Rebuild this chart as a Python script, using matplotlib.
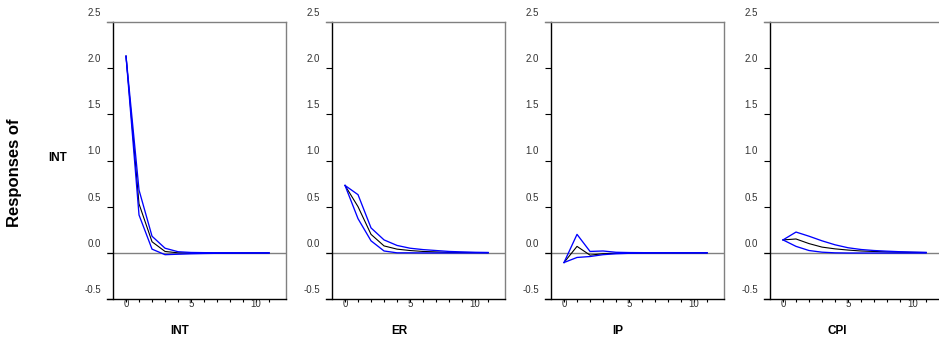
import numpy as np
import matplotlib
matplotlib.use('Agg')
import matplotlib.pyplot as plt
from matplotlib.transforms import ScaledTranslation

plt.rcParams['font.family'] = ['Liberation Sans', 'DejaVu Sans']

# horizons and impulse responses of INT to each shock
steps = list(range(12))
shocks = ['INT', 'ER', 'IP', 'CPI']

int_mid = [2.13, 0.53, 0.12, 0.015, 0.0, -0.003, -0.003, -0.002, -0.002, -0.001, -0.001, -0.001]
int_up = [2.13, 0.68, 0.18, 0.05, 0.012, 0.004, 0.002, 0.001, 0.001, 0.0, 0.0, 0.0]
int_lo = [2.13, 0.41, 0.04, -0.02, -0.015, -0.01, -0.007, -0.005, -0.004, -0.003, -0.002, -0.002]

er_mid = [0.73, 0.50, 0.20, 0.075, 0.04, 0.025, 0.015, 0.01, 0.005, 0.004, 0.003, 0.002]
er_up = [0.73, 0.63, 0.27, 0.14, 0.08, 0.05, 0.035, 0.025, 0.015, 0.01, 0.006, 0.004]
er_lo = [0.73, 0.37, 0.13, 0.02, 0.0, 0.0, -0.001, -0.001, -0.001, -0.001, -0.001, -0.001]

ip_mid = [-0.105, 0.07, -0.025, -0.01, -0.004, -0.002, -0.001, 0.0, 0.0, 0.0, 0.0, 0.0]
ip_up = [-0.105, 0.20, 0.015, 0.02, 0.006, 0.003, 0.002, 0.001, 0.001, 0.0, 0.0, 0.0]
ip_lo = [-0.105, -0.05, -0.04, -0.02, -0.01, -0.005, -0.003, -0.002, -0.001, -0.001, 0.0, 0.0]

cpi_mid = [0.14, 0.15, 0.10, 0.062, 0.043, 0.03, 0.02, 0.015, 0.01, 0.007, 0.005, 0.003]
cpi_up = [0.14, 0.225, 0.18, 0.13, 0.087, 0.055, 0.036, 0.025, 0.018, 0.012, 0.008, 0.005]
cpi_lo = [0.14, 0.07, 0.025, 0.007, 0.0, -0.002, -0.002, -0.002, -0.002, -0.002, -0.002, -0.002]

mids = [int_mid, er_mid, ip_mid, cpi_mid]
ups = [int_up, er_up, ip_up, cpi_up]
los = [int_lo, er_lo, ip_lo, cpi_lo]

W, H = 939, 341
fig = plt.figure(figsize=(W / 100, H / 100), dpi=100)

gap = 219
for i, shock in enumerate(shocks):
    left = 106.5 + gap * i
    ax = fig.add_axes([left / W, (H - 299) / H, 179.5 / W, 277 / H])
    ax.plot(steps, mids[i], color='black', lw=0.8)
    ax.plot(steps, ups[i], color='#0000ff', lw=0.95)
    ax.plot(steps, los[i], color='#0000ff', lw=0.95)
    ax.axhline(0, color='#808080', lw=1.0, zorder=0)

    ax.set_xlim(-1.5, 12.3)
    ax.set_ylim(-0.5, 2.5)
    ax.spines['left'].set_position(('data', -1))
    ax.spines['left'].set_color('black')
    ax.spines['bottom'].set_color('black')
    ax.spines['top'].set_color('#808080')
    ax.spines['right'].set_color('#808080')
    for s in ax.spines.values():
        s.set_linewidth(1.0)

    ax.set_yticks([-0.5, 0.0, 0.5, 1.0, 1.5, 2.0, 2.5])
    ax.set_yticklabels(['-0.5', '0.0', '0.5', '1.0', '1.5', '2.0', '2.5'])
    ax.set_xticks([0, 5, 10])
    ax.set_xticks(steps, minor=True)
    ax.tick_params(axis='y', direction='out', length=4.3, width=0.8, pad=4.5,
                   labelsize=7, labelcolor='#333333')
    ax.tick_params(axis='x', which='both', direction='out', length=2.2, width=0.8,
                   pad=-2.3, labelsize=7, labelcolor='#333333')
    shift = ScaledTranslation(0, 0.1, fig.dpi_scale_trans)
    for lab in ax.get_yticklabels():
        lab.set_transform(lab.get_transform() + shift)

    fig.text((180 + gap * i) / W, 1 - 331 / H, shock, ha='center', va='center',
             fontsize=8.5, fontweight='bold')

fig.text(15 / W, 1 - 173 / H, 'Responses of', rotation=90, ha='center', va='center',
         fontsize=12, fontweight='bold')
fig.text(58 / W, 1 - 158 / H, 'INT', ha='center', va='center',
         fontsize=8.5, fontweight='bold')

fig.savefig('out.png', dpi=100)
